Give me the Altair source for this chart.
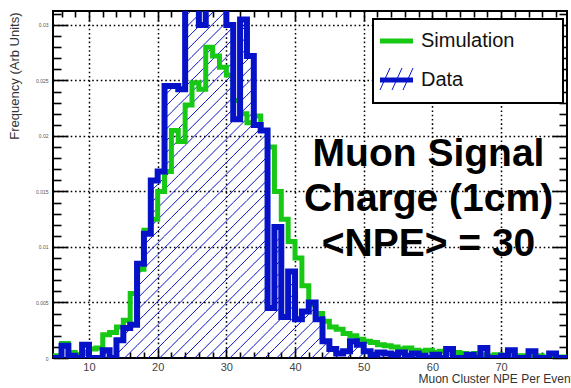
import altair as alt
import numpy as np
import pandas as pd

# ---------------- data ----------------
bin_starts = list(range(4, 80))  # histogram bins of width 1 NPE

sim_values = [
    0.0002, 0.0002, 0.0013, 0.0005, 0.0003, 0.0004, 0.0008, 0.0009, 0.0021, 0.0023,  # 4-13
    0.0028, 0.0034, 0.0058, 0.0080, 0.0115, 0.0125, 0.0150, 0.0168, 0.0205, 0.0195,  # 14-23
    0.0228, 0.0248, 0.0242, 0.0280, 0.0272, 0.0262, 0.0255, 0.0232, 0.0220, 0.0212,  # 24-33
    0.0218, 0.0205, 0.0190, 0.0150, 0.0125, 0.0105, 0.0090, 0.0065, 0.0048, 0.0040,  # 34-43
    0.0033, 0.0028, 0.0026, 0.0022, 0.0020, 0.0017, 0.0015, 0.0014, 0.0012, 0.0011,  # 44-53
    0.0010, 0.0008, 0.0009, 0.0007, 0.0006, 0.0007, 0.0005, 0.0006, 0.0004, 0.0005,  # 54-63
    0.0004, 0.0003, 0.0004, 0.0003, 0.0002, 0.0003, 0.0002, 0.0003, 0.0002, 0.0002,  # 64-73
    0.0001, 0.0002, 0.0001, 0.0002, 0.0001, 0.0001,                                  # 74-79
]

data_values = [
    0.0, 0.0, 0.0011, 0.0002, 0.0, 0.0012, 0.0, 0.0, 0.0007, 0.0,                    # 4-13
    0.0016, 0.0027, 0.0030, 0.0085, 0.0112, 0.0160, 0.0168, 0.0245, 0.0245, 0.0242,  # 14-23
    0.0330, 0.0330, 0.0300, 0.0330, 0.0330, 0.0330, 0.0300, 0.0215, 0.0305, 0.0272,  # 24-33
    0.0210, 0.0205, 0.0045, 0.0118, 0.0037, 0.0078, 0.0035, 0.0042, 0.0050, 0.0035,  # 34-43
    0.0015, 0.0008, 0.0004, 0.0006, 0.0015, 0.0012, 0.0006, 0.0003, 0.0005, 0.0004,  # 44-53
    0.0003, 0.0005, 0.0002, 0.0004, 0.0002, 0.0, 0.0003, 0.0, 0.0008, 0.0,           # 54-63
    0.0, 0.0003, 0.0, 0.0009, 0.0, 0.0, 0.0002, 0.0007, 0.0, 0.0,                    # 64-73
    0.0006, 0.0, 0.0, 0.0004, 0.0, 0.0,                                              # 74-79
]

x_major = [10, 20, 30, 40, 50, 60, 70, 80]
x_minor = [6, 8, 12, 14, 16, 18, 22, 24, 26, 28, 32, 34, 36, 38, 42, 44, 46, 48,
           52, 54, 56, 58, 62, 64, 66, 68, 72, 74, 76, 78]
x_grid = [10, 20, 30, 40, 50, 60, 70]
y_major = [0, 0.005, 0.01, 0.015, 0.02, 0.025, 0.03]
y_minor = [0.001, 0.002, 0.003, 0.004, 0.006, 0.007, 0.008, 0.009, 0.011, 0.012,
           0.013, 0.014, 0.016, 0.017, 0.018, 0.019, 0.021, 0.022, 0.023, 0.024,
           0.026, 0.027, 0.028, 0.029, 0.031]
y_grid = [0.005, 0.01, 0.015, 0.02, 0.025, 0.03]

legend_labels = ["Simulation", "Data"]
note_lines = ["Muon Signal", "Charge (1cm)", "<NPE> = 30"]
x_title = "Muon Cluster NPE Per Event"
y_title = "Frequency (Arb Units)"

# ---------------- styling ----------------
FONT = "Liberation Sans"
GREEN = "#17c814"
BLUE = "#0612c8"
W, H = 514, 347
X_MIN, X_MAX = 4.76, 79.6
Y_MAX = 0.03126

xs = alt.Scale(domain=[X_MIN, X_MAX], nice=False, zero=False)
ys = alt.Scale(domain=[0, Y_MAX], nice=False, zero=True)


def step_frame(vals, name):
    xs_ = bin_starts + [bin_starts[-1] + 1]
    vs_ = list(vals) + [vals[-1]]
    return pd.DataFrame({"npe": xs_, "freq": vs_, "series": name})


sim_df = step_frame(sim_values, legend_labels[0])
dat_df = step_frame(data_values, legend_labels[1])

# hatch (style 45 deg) clipped to the data histogram
k = (W / (X_MAX - X_MIN)) / (H / Y_MAX)      # data-y per data-x for a 45 deg line
spacing = 11.7 / (W / (X_MAX - X_MIN))
rows = []
for x0, v in zip(bin_starts, data_values):
    if v <= 0:
        continue
    x1 = x0 + 1
    for c in np.arange(-70, 80, spacing):
        xa = max(x0, c)
        xb = min(x1, c + v / k)
        if xb > xa:
            rows.append({"xa": xa, "ya": k * (xa - c), "xb": xb, "yb": k * (xb - c)})
hatch_df = pd.DataFrame(rows)

tick_common = dict(domain=False, grid=False, tickColor="black", tickWidth=1.6)

ax_x_main = alt.Axis(orient="bottom", values=x_major, offset=-10, tickSize=10,
                     labelFontSize=11, labelColor="#444", labelPadding=3, labelFont=FONT,
                     labelFlush=False, labelOverlap=False, format="d",
                     title=x_title, titleFont=FONT, titleFontSize=12, titleColor="#333",
                     titleFontWeight="normal", titleX=365, titleY=30, titleAlign="left",
                     titleBaseline="middle", titleAngle=0, **tick_common)
ax_x_minor = alt.Axis(orient="bottom", values=x_minor, offset=-6, tickSize=6,
                      labels=False, title=None, **tick_common)
ax_x_top = alt.Axis(orient="top", values=x_major, offset=-10, tickSize=10,
                    labels=False, title=None, **tick_common)
ax_x_top_minor = alt.Axis(orient="top", values=x_minor, offset=-6, tickSize=6,
                          labels=False, title=None, **tick_common)
ax_x_grid = alt.Axis(orient="bottom", values=x_grid, grid=True, ticks=False, labels=False,
                     domain=False, title=None, gridColor="black", gridDash=[1.6, 2.7],
                     gridWidth=1.5)

ax_y_main = alt.Axis(orient="left", values=y_major, offset=-15, tickSize=15,
                     labelFontSize=5, labelColor="#555", labelPadding=5, labelFont=FONT,
                     labelOverlap=False, format="~g",
                     title=y_title, titleFont=FONT, titleFontSize=13, titleColor="#333",
                     titleFontWeight="normal", titleX=-54, titleY=1, titleAlign="right",
                     titleBaseline="middle", titleAngle=270, **tick_common)
ax_y_minor = alt.Axis(orient="left", values=y_minor, offset=-8, tickSize=8,
                      labels=False, title=None, **tick_common)
ax_y_right = alt.Axis(orient="right", values=y_major, offset=-15, tickSize=15,
                      labels=False, title=None, **tick_common)
ax_y_right_minor = alt.Axis(orient="right", values=y_minor, offset=-8, tickSize=8,
                            labels=False, title=None, **tick_common)
ax_y_grid = alt.Axis(orient="left", values=y_grid, grid=True, ticks=False, labels=False,
                     domain=False, title=None, gridColor="black", gridDash=[1.6, 2.7],
                     gridWidth=1.5)

hatch = alt.Chart(hatch_df).mark_rule(color=BLUE, strokeWidth=1, clip=True).encode(
    x=alt.X("xa:Q", scale=xs, axis=ax_x_main),
    x2="xb:Q",
    y=alt.Y("ya:Q", scale=ys, axis=ax_y_main),
    y2="yb:Q",
)

sim_line = alt.Chart(sim_df).mark_line(interpolate="step-after", strokeWidth=5,
                                       color=GREEN, clip=True).encode(
    x=alt.X("npe:Q", scale=xs, axis=ax_x_minor),
    y=alt.Y("freq:Q", scale=ys, axis=ax_y_minor),
)

data_line = alt.Chart(dat_df).mark_line(interpolate="step-after", strokeWidth=6,
                                        color=BLUE, clip=True).encode(
    x=alt.X("npe:Q", scale=xs, axis=ax_x_top),
    y=alt.Y("freq:Q", scale=ys, axis=ax_y_right),
)

inv_minor = alt.Chart(sim_df).mark_line(opacity=0, clip=True).encode(
    x=alt.X("npe:Q", scale=xs, axis=ax_x_top_minor),
    y=alt.Y("freq:Q", scale=ys, axis=ax_y_right_minor),
)

inv_grid = alt.Chart(sim_df).mark_line(opacity=0, clip=True).encode(
    x=alt.X("npe:Q", scale=xs, axis=ax_x_grid),
    y=alt.Y("freq:Q", scale=ys, axis=ax_y_grid),
)

one = alt.Data(values=[{"k": 1}])

leg_box = alt.Chart(one).mark_rect(fill="white", stroke="black", strokeWidth=2).encode(
    x=alt.value(320), x2=alt.value(510), y=alt.value(8), y2=alt.value(92))
leg_green = alt.Chart(one).mark_rule(color=GREEN, strokeWidth=5).encode(
    x=alt.value(327), x2=alt.value(360), y=alt.value(30))
leg_blue = alt.Chart(one).mark_rule(color=BLUE, strokeWidth=5).encode(
    x=alt.value(327), x2=alt.value(360), y=alt.value(69))
leg_h = [alt.Chart(one).mark_rule(color=BLUE, strokeWidth=1).encode(
    x=alt.value(x0), x2=alt.value(x0 + 10), y=alt.value(79), y2=alt.value(57))
    for x0 in (327, 339, 350)]
leg_t1 = alt.Chart(one).mark_text(align="left", baseline="middle", font=FONT,
                                   fontSize=20, color="#111").encode(
    x=alt.value(368), y=alt.value(30), text=alt.value(legend_labels[0]))
leg_t2 = alt.Chart(one).mark_text(align="left", baseline="middle", font=FONT,
                                   fontSize=20, color="#111").encode(
    x=alt.value(368), y=alt.value(69), text=alt.value(legend_labels[1]))

note = alt.Chart(one).mark_text(align="center", baseline="alphabetic", font=FONT,
                                 fontSize=39, fontWeight="bold", lineHeight=45,
                                 color="black").encode(
    x=alt.value(375.5), y=alt.value(155), text=alt.value(note_lines))

chart = alt.layer(
    inv_grid, hatch, sim_line, data_line, inv_minor,
    leg_box, leg_green, leg_blue, *leg_h, leg_t1, leg_t2, note,
).resolve_axis(
    x="independent", y="independent"
).properties(
    width=W, height=H,
    padding={"left": 53, "top": 11, "right": 4, "bottom": 30},
    autosize=alt.AutoSizeParams(type="none"),
    background="white",
).configure_view(
    stroke="black", strokeWidth=2
)

chart.save("out.html", embed_options={"renderer": "svg", "actions": False})
